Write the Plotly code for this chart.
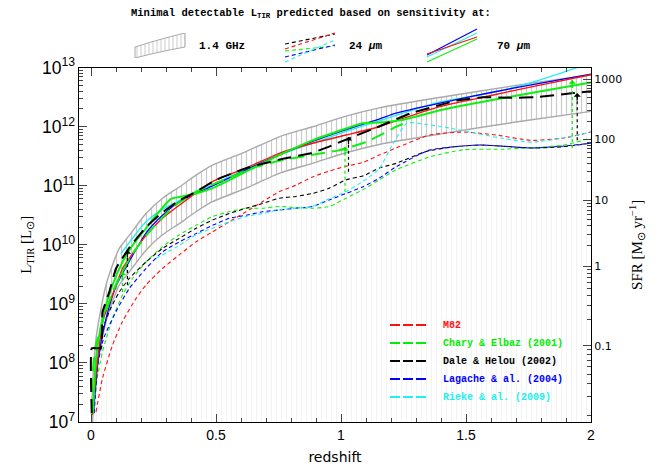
import plotly.graph_objects as go
import numpy as np

W, H = 670, 471
def fx(p): return p / W
def fy(p): return 1 - p / H

# ---------------- data: log10(L_TIR/Lsun) versus redshift ----------------
# 1.4 GHz band (upper and lower edges)
band_z = [0.003, 0.007, 0.02, 0.04, 0.06, 0.086, 0.113, 0.153, 0.22, 0.286, 0.353, 0.42, 0.486, 0.62, 0.753, 0.886, 1.02, 1.153, 1.4, 1.7, 2.0]
band_up = [7.15, 7.68, 8.41, 8.92, 9.32, 9.66, 9.94, 10.16, 10.53, 10.79, 10.98, 11.18, 11.35, 11.58, 11.83, 12.0, 12.18, 12.32, 12.5, 12.7, 12.88]
band_lo = [6.53, 7.06, 7.79, 8.30, 8.70, 9.04, 9.32, 9.54, 9.91, 10.17, 10.36, 10.56, 10.73, 10.96, 11.21, 11.38, 11.56, 11.70, 11.88, 12.08, 12.26]

# 24 micron (short dashed)
m82_24_z = [0.02, 0.046, 0.086, 0.126, 0.18, 0.22, 0.286, 0.353, 0.42, 0.486, 0.553, 0.62, 0.686, 0.753, 0.82, 0.886, 0.953, 1.02, 1.09, 1.153, 1.22, 1.356, 1.49, 1.62, 1.76, 1.89, 2.0]
m82_24 = [7.17, 7.74, 8.3, 8.7, 9.09, 9.32, 9.6, 9.83, 10.05, 10.22, 10.39, 10.56, 10.73, 10.9, 11.01, 11.15, 11.25, 11.33, 11.4, 11.52, 11.64, 11.86, 11.91, 11.86, 11.77, 11.81, 11.91]
ce_24_z = [0.01, 0.02, 0.046, 0.086, 0.126, 0.166, 0.22, 0.286, 0.353, 0.42, 0.486, 0.553, 0.62, 0.686, 0.753, 0.82, 0.886, 0.953, 1.02, 1.086, 1.153, 1.22, 1.356, 1.49, 1.65, 1.89, 2.0]
ce_24 = [7.15, 7.62, 8.19, 8.75, 9.15, 9.43, 9.71, 9.97, 10.17, 10.33, 10.48, 10.56, 10.62, 10.62, 10.65, 10.63, 10.62, 10.65, 10.79, 10.93, 11.1, 11.27, 11.49, 11.61, 11.62, 11.69, 11.81]
dh_24_z = [0.008, 0.015, 0.027, 0.073, 0.113, 0.153, 0.22, 0.286, 0.353, 0.42, 0.486, 0.553, 0.62, 0.686, 0.753, 0.82, 0.886, 0.953, 1.02, 1.09, 1.153, 1.22, 1.34, 1.45, 1.556, 1.65, 1.76, 1.88, 2.0]
dh_24 = [7.15, 7.7, 8.3, 8.87, 9.2, 9.43, 9.71, 9.94, 10.11, 10.28, 10.42, 10.53, 10.62, 10.7, 10.79, 10.82, 10.87, 10.96, 11.1, 11.17, 11.3, 11.38, 11.58, 11.66, 11.69, 11.67, 11.64, 11.66, 11.72]
la_24_z = [0.013, 0.027, 0.05, 0.1, 0.153, 0.22, 0.286, 0.353, 0.42, 0.486, 0.553, 0.62, 0.686, 0.753, 0.82, 0.886, 0.953, 1.02, 1.086, 1.153, 1.22, 1.35, 1.45, 1.556, 1.65, 1.76, 1.88, 2.0]
la_24 = [7.15, 7.96, 8.41, 8.87, 9.26, 9.6, 9.88, 10.05, 10.19, 10.33, 10.45, 10.5, 10.56, 10.59, 10.62, 10.65, 10.76, 10.87, 10.98, 11.13, 11.32, 11.6, 11.66, 11.69, 11.67, 11.64, 11.67, 11.72]
ri_24_z = [0.26, 0.353, 0.42, 0.486, 0.553, 0.62, 0.686, 0.753, 0.82, 0.886, 0.953, 1.02, 1.086, 1.153, 1.2, 1.264, 1.34, 1.42, 1.55, 1.65, 1.76, 1.88, 2.0]
ri_24 = [9.77, 9.99, 10.17, 10.28, 10.39, 10.48, 10.53, 10.59, 10.62, 10.65, 10.78, 10.9, 11.07, 11.29, 11.65, 12.06, 12.04, 11.99, 11.88, 11.8, 11.74, 11.8, 11.91]

# 70 micron (solid)
m82_70_z = [0.005, 0.027, 0.05, 0.086, 0.126, 0.153, 0.22, 0.286, 0.353, 0.486, 0.62, 0.753, 0.886, 1.02, 1.153, 1.22, 1.396, 1.6, 1.8, 2.0]
m82_70 = [7.12, 8.07, 8.75, 9.15, 9.6, 9.77, 10.16, 10.45, 10.67, 11.07, 11.3, 11.55, 11.72, 11.86, 12.0, 12.1, 12.34, 12.53, 12.71, 12.88]
ce_70_z = [0.008, 0.02, 0.046, 0.086, 0.126, 0.166, 0.22, 0.26, 0.32, 0.353, 0.42, 0.486, 0.62, 0.753, 0.886, 1.02, 1.086, 1.153, 1.25, 1.396, 1.6, 1.8, 2.0]
ce_70 = [7.15, 8.07, 8.75, 9.32, 9.71, 9.99, 10.28, 10.5, 10.78, 10.81, 10.87, 10.96, 11.24, 11.52, 11.77, 11.97, 12.06, 12.07, 12.12, 12.28, 12.45, 12.6, 12.75]
la_70_z = [0.01, 0.03, 0.06, 0.1, 0.153, 0.22, 0.286, 0.353, 0.486, 0.62, 0.753, 0.886, 1.02, 1.153, 1.22, 1.396, 1.6, 1.8, 2.0]
la_70 = [7.15, 8.1, 8.75, 9.3, 9.72, 10.2, 10.5, 10.73, 11.0, 11.27, 11.52, 11.75, 11.95, 12.13, 12.23, 12.4, 12.58, 12.74, 12.89]
ri_70_z = [0.12, 0.22, 0.286, 0.353, 0.486, 0.62, 0.753, 0.886, 1.02, 1.153, 1.396, 1.62, 1.8, 1.95]
ri_70 = [9.85, 10.39, 10.6, 10.75, 11.02, 11.28, 11.52, 11.72, 11.92, 12.1, 12.42, 12.59, 12.8, 13.01]

# long dashed (thick)
dh_ld_z = [0.003, 0.003, 0.04, 0.046, 0.073, 0.1, 0.153, 0.22, 0.286, 0.353, 0.42, 0.5, 0.62, 0.77, 0.88, 0.95, 1.03, 1.15, 1.28, 1.47, 1.57, 1.68, 1.78, 1.93, 2.0]
dh_ld = [7.15, 8.25, 8.25, 8.86, 9.2, 9.6, 9.95, 10.3, 10.55, 10.75, 10.9, 11.1, 11.3, 11.46, 11.55, 11.66, 11.8, 12.0, 12.23, 12.45, 12.5, 12.49, 12.5, 12.57, 12.6]
ce_ld_z = [0.004, 0.004, 0.01, 0.02, 0.046, 0.086, 0.126, 0.166, 0.22, 0.26, 0.33, 0.42, 0.53, 0.66, 0.77, 0.88, 0.99, 1.1, 1.153, 1.22, 1.26]
ce_ld = [7.15, 7.6, 8.0, 8.3, 8.7, 9.2, 9.55, 9.85, 10.15, 10.35, 10.65, 10.9, 11.1, 11.32, 11.44, 11.52, 11.6, 11.74, 11.85, 12.0, 12.07]

# dotted arrows: redshift, start, tip, colour
arr_z = [0.126, 0.146, 1.016, 1.03, 1.925, 1.945]
arr_from = [9.2, 9.32, 10.9, 11.24, 11.64, 11.77]
arr_to = [9.55, 9.91, 11.66, 11.83, 12.79, 12.57]
arr_col = ["#00ee00", "black", "#00ee00", "black", "#00ee00", "black"]

# SFR axis labels (SFR = 1.57e-10 L (1 + sqrt(1e9/L)), Bell 2003)
sfr_labels = ["0.1", "1", "10", "100", "1000"]

x_ticks = [0, 0.5, 1, 1.5, 2]
x_labels = ["0", "0.5", "1", "1.5", "2"]

RED, GREEN, BLACK, BLUE, CYAN = "#ff1010", "#10f010", "#000000", "#0000ff", "#20f0f0"

fig = go.Figure()
L = lambda a: [10 ** v for v in a]
YMIN, YMAX = 7, 13

# band: faint hatch below, gray hatch inside
fig.add_trace(go.Scatter(x=[0, 2], y=[10 ** YMIN, 10 ** YMIN], mode="lines", line=dict(width=0), hoverinfo="skip", showlegend=False))
fig.add_trace(go.Scatter(x=band_z, y=L(band_lo), mode="lines", line=dict(color="#aaaaaa", width=1.4, shape="spline", smoothing=0.6),
                         fill="tonexty", fillcolor="rgba(0,0,0,0)",
                         fillpattern=dict(shape="|", size=5, solidity=0.2, fgcolor="#e8e8e8", bgcolor="rgba(0,0,0,0)"),
                         showlegend=False))
fig.add_trace(go.Scatter(x=band_z, y=L(band_up), mode="lines", line=dict(color="#aaaaaa", width=1.4, shape="spline", smoothing=0.6),
                         fill="tonexty", fillcolor="rgba(0,0,0,0)",
                         fillpattern=dict(shape="|", size=5, solidity=0.24, fgcolor="#969696", bgcolor="rgba(0,0,0,0)"),
                         showlegend=False))

def add(z, v, color, dash, width, sm=0.6):
    fig.add_trace(go.Scatter(x=z, y=L(v), mode="lines", showlegend=False,
                             line=dict(color=color, dash=dash, width=width, shape="spline", smoothing=sm)))

sd = "4px,3px"
add(m82_24_z, m82_24, RED, sd, 1.1)
add(ce_24_z, ce_24, GREEN, sd, 1.1)
add(dh_24_z, dh_24, BLACK, sd, 1.1)
add(la_24_z, la_24, BLUE, sd, 1.1)
add(ri_24_z, ri_24, CYAN, sd, 1.1)

add(ri_70_z, ri_70, CYAN, "solid", 1.3)
add(la_70_z, la_70, BLUE, "solid", 1.3)
add(m82_70_z, m82_70, RED, "solid", 1.4)
add(ce_70_z, ce_70, GREEN, "solid", 2.0)

ld = "14px,7px"
add(ce_ld_z, ce_ld, GREEN, ld, 2.0, 0.3)
add(dh_ld_z, dh_ld, BLACK, ld, 2.0, 0.3)

annotations = []
for z, a, b, c in zip(arr_z, arr_from, arr_to, arr_col):
    fig.add_trace(go.Scatter(x=[z, z], y=[10 ** a, 10 ** b], mode="lines", showlegend=False,
                             line=dict(color=c, dash="dot", width=1.2)))
    annotations.append(dict(x=z, y=b, xref="x", yref="y", ax=0, ay=9, axref="pixel", ayref="pixel",
                            showarrow=True, arrowhead=1, arrowsize=1, arrowwidth=1.2, arrowcolor=c, text=""))

# SFR (right) axis, overlaid on the same L_TIR scale
grid_logL = np.linspace(5, 14, 4001)
grid_sfr = np.log10(1.57e-10 * 10 ** grid_logL * (1 + np.sqrt(1e9 / 10 ** grid_logL)))
def sfr_to_logL(s):
    return float(np.interp(np.log10(s), grid_sfr, grid_logL))
major_logL = [sfr_to_logL(float(s)) for s in sfr_labels]
minor_logL = []
for dec in [0.01, 0.1, 1, 10, 100, 1000]:
    for k in range(2, 10):
        m = sfr_to_logL(k * dec)
        if YMIN < m < YMAX:
            minor_logL.append(m)
fig.add_trace(go.Scatter(x=[None], y=[None], yaxis="y2", showlegend=False))

# legend samples (top) in an inset axis for the hatched box
fig.add_trace(go.Scatter(x=[0, 0.5, 1], y=[0, 0.24, 0.44], xaxis="x3", yaxis="y3", mode="lines",
                         line=dict(color="#a8a8a8", width=1), showlegend=False, line_shape="spline"))
fig.add_trace(go.Scatter(x=[0, 0.5, 1], y=[0.44, 0.74, 1.0], xaxis="x3", yaxis="y3", mode="lines",
                         line=dict(color="#a8a8a8", width=1), fill="tonexty", fillcolor="rgba(0,0,0,0)",
                         fillpattern=dict(shape="|", size=4, solidity=0.25, fgcolor="#969696", bgcolor="rgba(0,0,0,0)"),
                         showlegend=False, line_shape="spline"))

shapes = []
shapes.append(dict(type="line", xref="paper", yref="paper", x0=fx(135), x1=fx(135), y0=fy(58), y1=fy(47), line=dict(color="#a8a8a8", width=1)))
shapes.append(dict(type="line", xref="paper", yref="paper", x0=fx(185), x1=fx(185), y0=fy(47), y1=fy(33), line=dict(color="#a8a8a8", width=1)))

# 24 micron key
for c, (y0, y1) in zip([BLACK, RED, GREEN, BLUE, CYAN], [(44, 34), (49, 33), (51, 46), (57, 45), (62, 40)]):
    shapes.append(dict(type="line", xref="paper", yref="paper", x0=fx(285), x1=fx(335), y0=fy(y0), y1=fy(y1),
                       line=dict(color=c, width=1.1, dash="4px,3px")))
# 70 micron key
for c, (y0, y1) in zip([BLUE, CYAN, RED, GREEN], [(55, 29), (57, 33), (54, 37), (62, 39)]):
    shapes.append(dict(type="line", xref="paper", yref="paper", x0=fx(427), x1=fx(477), y0=fy(y0), y1=fy(y1),
                       line=dict(color=c, width=1.2)))

# lower-right legend
leg_names = ["M82", "Chary & Elbaz (2001)", "Dale & Helou (2002)", "Lagache & al. (2004)", "Rieke & al. (2009)"]
leg_cols = [RED, "#00ee00", BLACK, BLUE, CYAN]
for i, (n, c) in enumerate(zip(leg_names, leg_cols)):
    yy = 325 + i * 18
    shapes.append(dict(type="line", xref="paper", yref="paper", x0=fx(390), x1=fx(428), y0=fy(yy), y1=fy(yy),
                       line=dict(color=c, width=2, dash="10px,3px")))
    annotations.append(dict(x=fx(441), y=fy(yy), xref="paper", yref="paper", text=n, showarrow=False,
                            xanchor="left", yanchor="middle",
                            font=dict(family="Liberation Mono", size=10, color=c, weight="bold")))

mono = dict(family="Liberation Mono", size=10.5, color="black", weight="bold")
annotations.append(dict(x=fx(311), y=fy(14), xref="paper", yref="paper", showarrow=False, xanchor="center", yanchor="middle",
                        text="Minimal detectable L<sub>TIR</sub> predicted based on sensitivity at:", font=mono))
annotations.append(dict(x=fx(197), y=fy(46), xref="paper", yref="paper", showarrow=False, xanchor="left", yanchor="middle",
                        text="1.4 GHz", font=dict(family="Liberation Mono", size=11, color="black", weight="bold")))
annotations.append(dict(x=fx(347), y=fy(46), xref="paper", yref="paper", showarrow=False, xanchor="left", yanchor="middle",
                        text="24 <i>μ</i>m", font=dict(family="Liberation Mono", size=11, color="black", weight="bold")))
annotations.append(dict(x=fx(495), y=fy(46), xref="paper", yref="paper", showarrow=False, xanchor="left", yanchor="middle",
                        text="70 <i>μ</i>m", font=dict(family="Liberation Mono", size=11, color="black", weight="bold")))

x_dom = [fx(79), fx(591)]
y_dom = [fy(422), fy(67.7)]
tickfont = dict(family="Liberation Sans", size=14, color="black")
fig.update_layout(
    width=W, height=H, margin=dict(l=0, r=0, t=0, b=0, autoexpand=False),
    paper_bgcolor="white", plot_bgcolor="white", showlegend=False,
    shapes=shapes, annotations=annotations,
    xaxis=dict(domain=x_dom, range=[-0.048, 2.0], tickvals=x_ticks, ticktext=x_labels, ticks="inside", ticklen=8,
               showline=True, linecolor="black", linewidth=1.2, mirror="ticks", showgrid=False, zeroline=False,
               automargin=False,
               tickfont=tickfont, minor=dict(dtick=0.1, ticks="inside", ticklen=4, showgrid=False),
               title=dict(text="redshift", font=dict(family="DejaVu Sans", size=14, color="black"), standoff=10)),
    yaxis=dict(domain=y_dom, type="log", range=[YMIN, YMAX], dtick=1, exponentformat="power", ticks="inside", ticklen=8,
               showline=True, linecolor="black", linewidth=1.2, mirror=False, showgrid=False, zeroline=False,
               automargin=False,
               tickfont=tickfont, minor=dict(ticks="inside", ticklen=4, showgrid=False),
               title=dict(text="L<sub>TIR</sub> [L<sub>⊙</sub>]", font=dict(family="Liberation Serif", size=15, color="black"), standoff=6)),
    yaxis2=dict(domain=y_dom, type="log", range=[YMIN, YMAX], overlaying="y", side="right", anchor="x",
                tickmode="array", tickvals=[10 ** v for v in major_logL], ticktext=sfr_labels, automargin=False,
                ticks="inside", ticklen=8, showline=True, linecolor="black", linewidth=1.2, showgrid=False, zeroline=False,
                tickfont=dict(family="DejaVu Sans", size=11, color="black"),
                minor=dict(tickmode="array", tickvals=[10 ** v for v in minor_logL], ticks="inside", ticklen=4, showgrid=False),
                title=dict(text="SFR [M<sub>⊙</sub> yr<sup>−1</sup>]", font=dict(family="Liberation Serif", size=15, color="black"), standoff=10)),
    xaxis3=dict(domain=[fx(135), fx(185)], range=[0, 1], visible=False, anchor="y3", automargin=False),
    yaxis3=dict(domain=[fy(58), fy(33)], range=[0, 1], visible=False, anchor="x3", automargin=False),
)

fig.write_html("out.html")
